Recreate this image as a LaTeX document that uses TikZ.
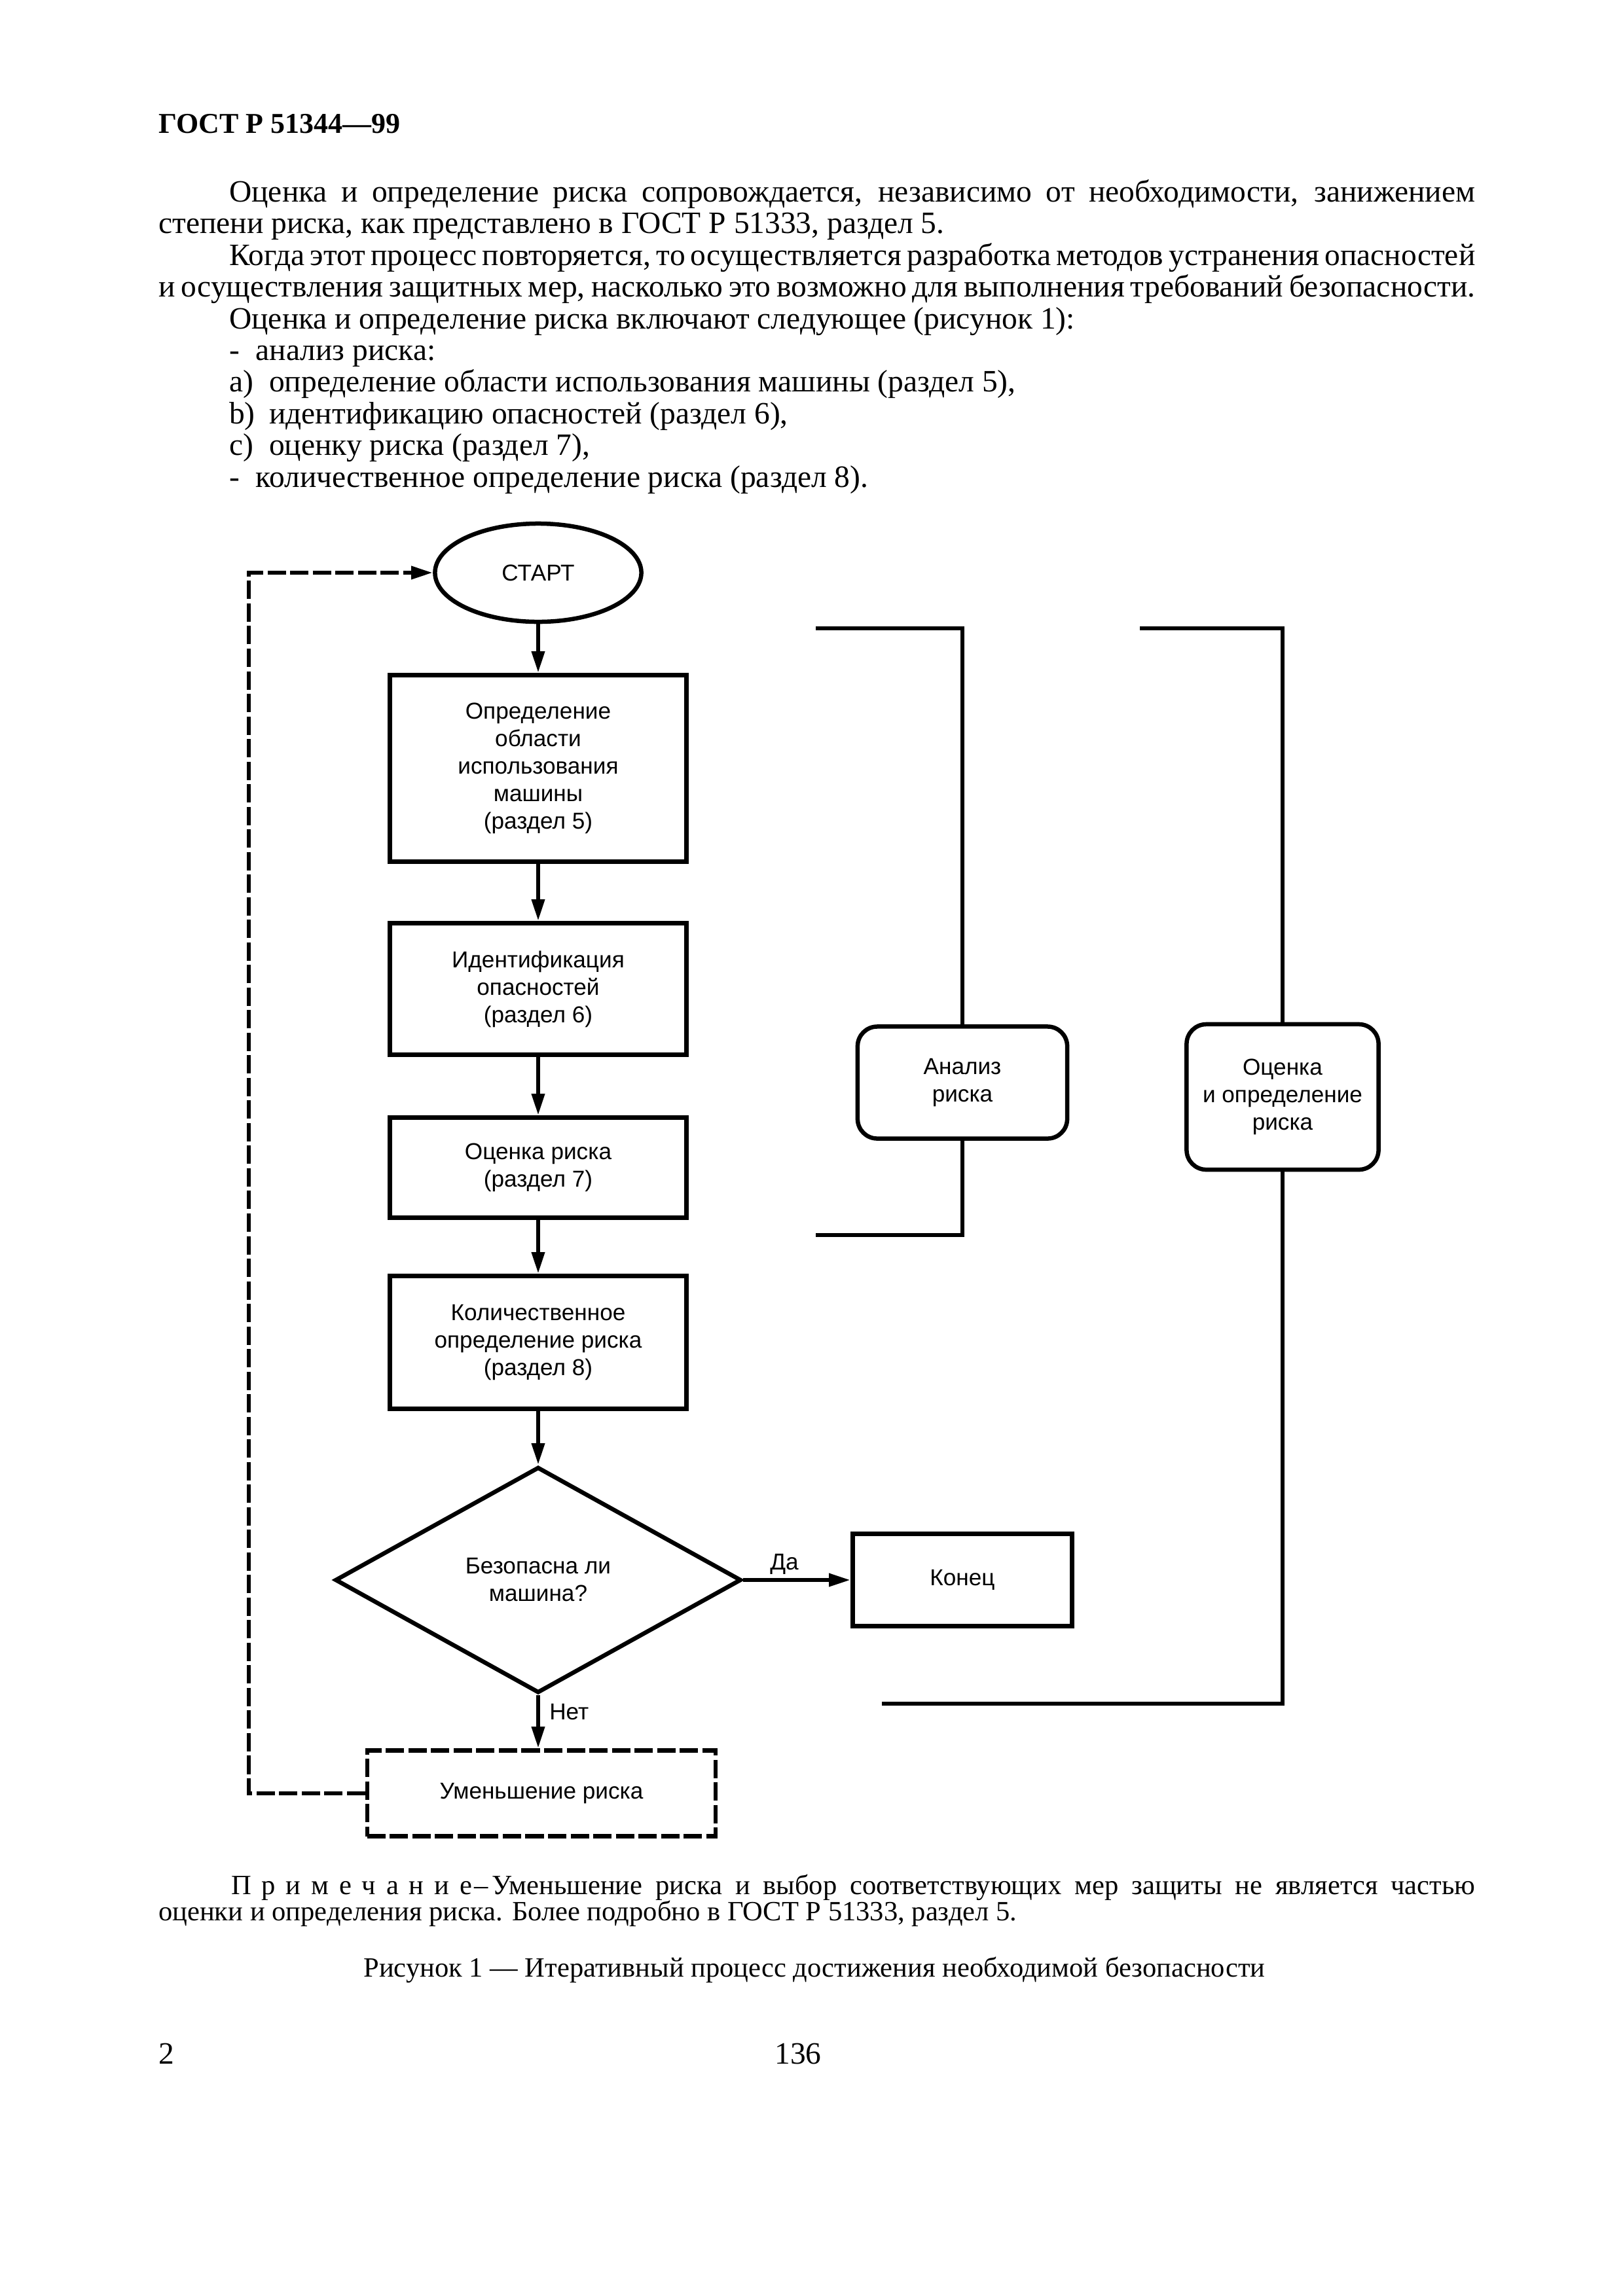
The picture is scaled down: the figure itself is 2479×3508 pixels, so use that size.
\documentclass[tikz,border=0pt]{standalone}
\usepackage{fontspec}
\setmainfont{Liberation Serif}
\newfontfamily\flowfont{Liberation Sans}
\usetikzlibrary{shapes.geometric,arrows.meta}
\begin{document}
\begin{tikzpicture}[x=0.01cm,y=-0.01cm,
  line width=1.85pt,
  bodytxt/.style={anchor=base west,inner sep=0,font=\fontsize{13.5}{15}\selectfont},
  notetxt/.style={anchor=base west,inner sep=0,font=\fontsize{12.1}{14}\selectfont},
  flowtxt/.style={font=\flowfont\fontsize{10}{11.95}\selectfont,align=center,inner sep=0},
  boxnode/.style={flowtxt,draw,rectangle},
  roundnode/.style={flowtxt,draw,rectangle,rounded corners=0.3cm},
  arr/.style={-{Triangle[length=0.33cm,width=0.19cm]}},
  dashline/.style={dash pattern=on 0.28cm off 0.065cm},
]
\useasboundingbox (0,0) rectangle (2479,3508);
\fill[white] (0,0) rectangle (2479,3508);

% header and text
\node[bodytxt,font=\fontsize{12.5}{14}\selectfont\bfseries] (hdr) at (239,203) {ГОСТ Р 51344—99};
\node[bodytxt] (l1) at (347,308) {\makebox[19.02cm][s]{Оценка и определение риска сопровождается, независимо от необходимости, занижением}};
\node[bodytxt] (l2) at (239,356) {степени риска, как представлено в ГОСТ Р 51333, раздел 5.};
\node[bodytxt] (l3) at (347,405) {\makebox[19.02cm][s]{Когда этот процесс повторяется, то осуществляется разработка методов устранения опасностей}};
\node[bodytxt] (l4) at (239,453) {\makebox[20.1cm][s]{и осуществления защитных мер, насколько это возможно для выполнения требований безопасности.}};
\node[bodytxt] (l5) at (347,502) {Оценка и определение риска включают следующее (рисунок 1):};
\node[bodytxt] (l6) at (347,550) {\makebox[0.405cm][l]{-}анализ риска:};
\node[bodytxt] (l7) at (347,598) {\makebox[0.61cm][l]{a)}определение области использования машины (раздел 5),};
\node[bodytxt] (l8) at (347,647) {\makebox[0.61cm][l]{b)}идентификацию опасностей (раздел 6),};
\node[bodytxt] (l9) at (347,695) {\makebox[0.61cm][l]{c)}оценку риска (раздел 7),};
\node[bodytxt] (l10) at (347,744) {\makebox[0.405cm][l]{-}количественное определение риска (раздел 8).};

% flowchart nodes
\node[flowtxt,draw,ellipse,minimum width=3.15cm,minimum height=1.5cm] (start) at (822,875) {СТАРТ};
\node[boxnode,minimum width=4.53cm,minimum height=2.85cm] (b1) at (822,1174) {Определение\\области\\использования\\машины\\(раздел 5)};
\node[boxnode,minimum width=4.53cm,minimum height=2.01cm] (b2) at (822,1511) {Идентификация\\опасностей\\(раздел 6)};
\node[boxnode,minimum width=4.53cm,minimum height=1.53cm] (b3) at (822,1784) {Оценка риска\\(раздел 7)};
\node[boxnode,minimum width=4.53cm,minimum height=2.03cm] (b4) at (822,2051) {Количественное\\определение риска\\(раздел 8)};
\node[flowtxt,draw,diamond,minimum width=6.2cm,minimum height=3.45cm] (dia) at (822,2414) {Безопасна ли\\машина?};
\node[boxnode,minimum width=3.35cm,minimum height=1.41cm] (end) at (1470,2414) {Конец};
\node[boxnode,dashline,minimum width=5.32cm,minimum height=1.31cm] (red) at (827,2740) {Уменьшение риска};
\node[roundnode,minimum width=3.2cm,minimum height=1.71cm] (an) at (1470,1654) {Анализ\\риска};
\node[roundnode,minimum width=2.93cm,minimum height=2.22cm] (oc) at (1959,1676) {Оценка\\и определение\\риска};

% connectors
\draw[arr] (start.south) -- (b1.north);
\draw[arr] (b1.south) -- (b2.north);
\draw[arr] (b2.south) -- (b3.north);
\draw[arr] (b3.south) -- (b4.north);
\draw[arr] (b4.south) -- (dia.north);
\draw[arr] (dia.east) -- (end.west);
\draw[arr] (dia.south) -- (dia.south |- red.north);
\node[flowtxt,anchor=base] (da) at (1198,2398) {Да};
\node[flowtxt,anchor=base west] (net) at (836,2627) {Нет};

\coordinate (lp1) at (380,2740);
\coordinate (lp2) at (380,875);
\draw[arr,dashline] (red.west) -- (lp1) -- (lp2) -- (start.west);

% brackets
\coordinate (a1) at (1246,960);
\coordinate (a2) at (1470,960);
\coordinate (a3) at (1470,1887);
\coordinate (a4) at (1246,1887);
\draw (a1) -- (a2) -- (an.north);
\draw (an.south) -- (a3) -- (a4);
\coordinate (c1) at (1741,960);
\coordinate (c2) at (1959,960);
\coordinate (c3) at (1959,2603);
\coordinate (c4) at (1347,2603);
\draw (c1) -- (c2) -- (oc.north);
\draw (oc.south) -- (c3) -- (c4);

% note and caption
\node[notetxt] (n1) at (350,2894) {\makebox[18.99cm][s]{П\kern4.5pt р\kern4.5pt и\kern4.5pt м\kern4.5pt е\kern4.5pt ч\kern4.5pt а\kern4.5pt н\kern4.5pt и\kern4.5pt е\kern1pt–\kern1.5pt Уменьшение риска и выбор соответствующих мер защиты не является частью}};
\node[notetxt] (n2) at (239,2934) {оценки и определения риска. Более подробно в ГОСТ Р 51333, раздел 5.};
\node[bodytxt,anchor=base,font=\fontsize{12.1}{14}\selectfont] (cap) at (1244,3020) {Рисунок 1 — Итеративный процесс достижения необходимой безопасности};
\node[bodytxt] (pg) at (239,3153) {2};
\node[bodytxt,anchor=base] (pn) at (1219,3153) {136};
\end{tikzpicture}
\end{document}
